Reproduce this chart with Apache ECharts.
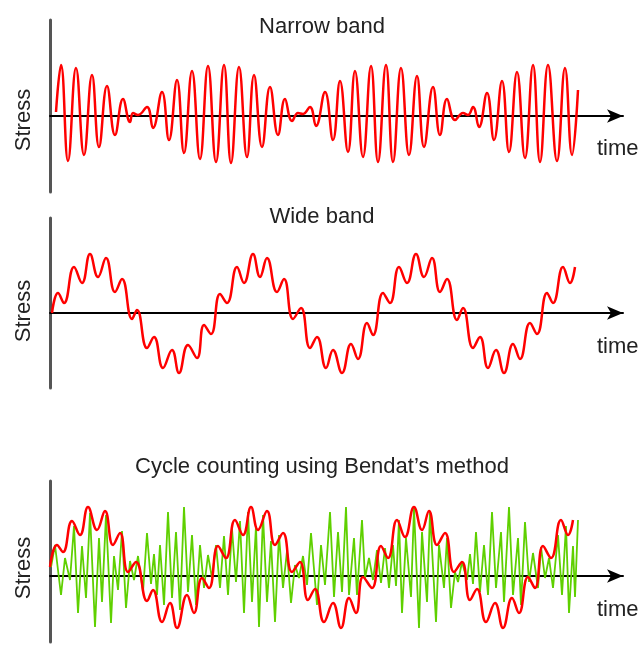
<!DOCTYPE html>
<html>
<head>
<meta charset="utf-8">
<title>Narrow band / Wide band</title>
<script src="https://cdn.jsdelivr.net/npm/echarts@6/dist/echarts.min.js"></script>
<style>
  html, body { margin: 0; padding: 0; background: #fff; }
  #main { width: 644px; height: 645px; }
</style>
</head>
<body>
<div id="main"></div>
<script>
// panel titles
var titles = ['Narrow band', 'Wide band', 'Cycle counting using Bendat\u2019s method'];

// narrow band: turning points (time, stress)
var narrowX = [56, 61, 68, 76, 84, 92, 99, 107, 115, 123, 130, 133, 138, 147, 153, 162, 169, 177, 184, 192,
  200, 208, 216, 224, 231, 239, 247, 254, 262, 270, 278, 285, 292, 298, 303, 310, 316, 325, 333, 340,
  348, 355, 363, 371, 378, 386, 393, 401, 409, 417, 424, 433, 440, 447, 455, 463, 468, 473, 479, 487,
  494, 502, 509, 517, 525, 533, 540, 548, 557, 565, 572, 578];
var narrowY = [4, 51, -45, 48, -39, 41, -31, 30, -19, 17, -6, 3, 1, 9, -12, 24, -24, 36, -37, 45,
  -43, 50, -46, 51, -47, 49, -41, 41, -31, 29, -19, 17, -5, 3, 2, 9, -10, 24, -24, 35,
  -36, 45, -41, 50, -46, 51, -46, 48, -39, 40, -31, 29, -19, 17, -4, 3, 1, 9, -11, 23,
  -24, 35, -36, 44, -42, 51, -46, 51, -45, 48, -39, 26];

// wide band: turning points
var wideX = [52, 58, 64, 74, 82, 90, 98, 106, 115, 122, 132, 137, 147, 154, 163, 172, 179, 188, 197, 204,
  211, 220, 227, 237, 244, 253, 260, 267, 277, 284, 293, 301, 310, 317, 326, 333, 342, 351, 358, 367,
  373, 383, 390, 399, 407, 416, 424, 432, 440, 447, 457, 463, 473, 480, 488, 496, 504, 513, 520, 530,
  537, 547, 553, 563, 570, 575];
var wideY = [0, 20, 10, 46, 30, 59, 36, 55, 21, 34, -6, 3, -35, -24, -55, -37, -60, -32, -45, -12,
  -21, 19, 10, 46, 30, 59, 36, 55, 21, 34, -6, 5, -35, -24, -55, -37, -60, -31, -46, -10,
  -22, 20, 10, 46, 30, 59, 36, 55, 21, 34, -7, 5, -35, -24, -55, -37, -60, -31, -46, -10,
  -21, 20, 10, 46, 30, 46];

// bottom panel, red (wide band as drawn there)
var cycleRedX = [50, 57, 63, 72, 80, 88, 97, 105, 113, 120, 128, 136, 147, 153, 162, 170, 177, 187, 194, 202,
  209, 218, 226, 235, 243, 251, 258, 267, 275, 283, 292, 300, 308, 315, 324, 333, 341, 349, 356, 363,
  372, 381, 388, 397, 405, 414, 422, 429, 437, 445, 454, 462, 470, 477, 486, 495, 503, 512, 519, 528,
  535, 543, 551, 561, 568, 573];
var cycleRedY = [9, 31, 24, 55, 41, 69, 46, 65, 31, 43, 4, 14, -25, -14, -46, -27, -52, -19, -37, -2,
  -12, 30, 18, 56, 41, 69, 46, 65, 31, 43, 4, 14, -24, -13, -46, -27, -52, -22, -37, -1,
  -12, 30, 18, 56, 39, 69, 46, 65, 31, 43, 4, 14, -24, -13, -46, -27, -52, -22, -37, -1,
  -12, 30, 18, 56, 41, 56];

// bottom panel, green (jagged narrow band)
var cycleGreenX = [51, 55, 61, 65, 70, 74, 78, 82, 86, 90, 95, 99, 102, 106, 111, 114, 118, 122, 126, 130,
  134, 138, 143, 147, 151, 154, 157, 160, 164, 168, 172, 176, 180, 184, 188, 192, 196, 200, 204, 208,
  212, 216, 220, 224, 228, 232, 236, 240, 244, 248, 252, 256, 259, 263, 267, 271, 275, 279, 283, 287,
  291, 295, 299, 303, 307, 311, 317, 321, 325, 330, 334, 338, 342, 346, 349, 354, 357, 362, 365, 369,
  373, 377, 381, 385, 389, 393, 396, 399, 402, 406, 411, 414, 419, 422, 427, 430, 436, 439, 444, 447,
  451, 455, 458, 462, 467, 470, 473, 476, 480, 484, 488, 492, 496, 501, 504, 509, 513, 518, 521, 525,
  529, 533, 538, 541, 545, 549, 553, 558, 562, 566, 569, 573, 575, 578];
var cycleGreenY = [9, 31, -19, 18, -4, 50, -37, 30, -22, 63, -51, 38, -26, 61, -47, 20, -14, 45, -32, 15,
  -4, 20, -16, 43, -8, 22, -19, 31, -29, 64, -22, 44, -34, 69, -16, 41, -29, 31, -12, 21,
  -2, 31, -12, 40, -19, 47, -6, 55, -37, 64, -26, 50, -51, 61, -26, 35, -46, 41, -12, 25,
  -27, 11, -2, 20, -9, 43, -29, 31, -9, 64, -21, 44, -16, 69, -19, 38, -19, 56, -2, 18,
  -4, 26, -7, 28, -12, 31, -10, 56, -37, 38, -21, 68, -52, 44, -26, 64, -46, 31, -12, 38,
  -32, 4, -6, 14, -4, 22, -8, 44, -16, 31, -19, 64, -12, 44, -26, 69, -19, 38, -29, 54,
  -6, 23, -12, 29, -2, 18, -12, 41, -19, 50, -37, 30, -21, 56];

function pairs(xs, ys) {
  var out = [];
  for (let i = 0; i < xs.length; i++) {
    out.push([xs[i], ys[i]]);
  }
  return out;
}

var myChart = echarts.init(document.getElementById('main'), null, { renderer: 'canvas' });

var font = 'Liberation Sans, Arial, sans-serif';
var textColor = '#222';

// grids: top, middle, bottom panel
var grids = [
  { left: 50, top: 20, width: 573, height: 172 },
  { left: 50, top: 218, width: 573, height: 170 },
  { left: 50, top: 481, width: 573, height: 161 }
];
var yRanges = [[-76, 96], [-75, 95], [-66, 95]];

var xAxes = [], yAxes = [];
for (let i = 0; i < 3; i++) {
  xAxes.push({
    gridIndex: i,
    type: 'value',
    min: 50,
    max: 623,
    axisLine: {
      onZero: true,
      symbol: ['none', 'arrow'],
      symbolSize: [10, 16],
      lineStyle: { color: '#000', width: 2 }
    },
    axisTick: { show: false },
    axisLabel: { show: false },
    splitLine: { show: false }
  });
  yAxes.push({
    gridIndex: i,
    type: 'value',
    min: yRanges[i][0],
    max: yRanges[i][1],
    axisLine: { show: true, onZero: false, lineStyle: { color: '#555', width: 3 } },
    axisTick: { show: false },
    axisLabel: { show: false },
    splitLine: { show: false }
  });
}

var redStyle = { color: '#ff0000', width: 2.5 };

var option = {
  animation: false,
  backgroundColor: '#fff',
  title: [
    { text: titles[0], left: 'center', top: 11 },
    { text: titles[1], left: 'center', top: 201 },
    { text: titles[2], left: 'center', top: 451 }
  ].map(function (t) {
    t.textStyle = { fontFamily: font, fontSize: 22, fontWeight: 'normal', color: textColor };
    return t;
  }),
  grid: grids,
  xAxis: xAxes,
  yAxis: yAxes,
  graphic: [
    { type: 'text', x: 24, y: 120, rotation: Math.PI / 2, style: { text: 'Stress', fill: textColor, font: '22px ' + font, align: 'center', verticalAlign: 'middle' } },
    { type: 'text', x: 24, y: 311, rotation: Math.PI / 2, style: { text: 'Stress', fill: textColor, font: '22px ' + font, align: 'center', verticalAlign: 'middle' } },
    { type: 'text', x: 24, y: 568, rotation: Math.PI / 2, style: { text: 'Stress', fill: textColor, font: '22px ' + font, align: 'center', verticalAlign: 'middle' } },
    { type: 'text', x: 597, y: 149, style: { text: 'time', fill: textColor, font: '22px ' + font, align: 'left', verticalAlign: 'middle' } },
    { type: 'text', x: 597, y: 347, style: { text: 'time', fill: textColor, font: '22px ' + font, align: 'left', verticalAlign: 'middle' } },
    { type: 'text', x: 597, y: 610, style: { text: 'time', fill: textColor, font: '22px ' + font, align: 'left', verticalAlign: 'middle' } }
  ],
  series: [
    {
      name: 'Narrow band', type: 'line', xAxisIndex: 0, yAxisIndex: 0,
      showSymbol: false, smooth: 0.45, lineStyle: redStyle,
      data: pairs(narrowX, narrowY)
    },
    {
      name: 'Wide band', type: 'line', xAxisIndex: 1, yAxisIndex: 1,
      showSymbol: false, smooth: 0.45, lineStyle: redStyle,
      data: pairs(wideX, wideY)
    },
    {
      name: 'Bendat narrow', type: 'line', xAxisIndex: 2, yAxisIndex: 2,
      showSymbol: false, smooth: false, lineStyle: { color: '#5fd000', width: 1.8 },
      data: pairs(cycleGreenX, cycleGreenY)
    },
    {
      name: 'Bendat wide', type: 'line', xAxisIndex: 2, yAxisIndex: 2,
      showSymbol: false, smooth: 0.45, lineStyle: redStyle,
      data: pairs(cycleRedX, cycleRedY)
    }
  ]
};

option && myChart.setOption(option);
</script>
</body>
</html>
